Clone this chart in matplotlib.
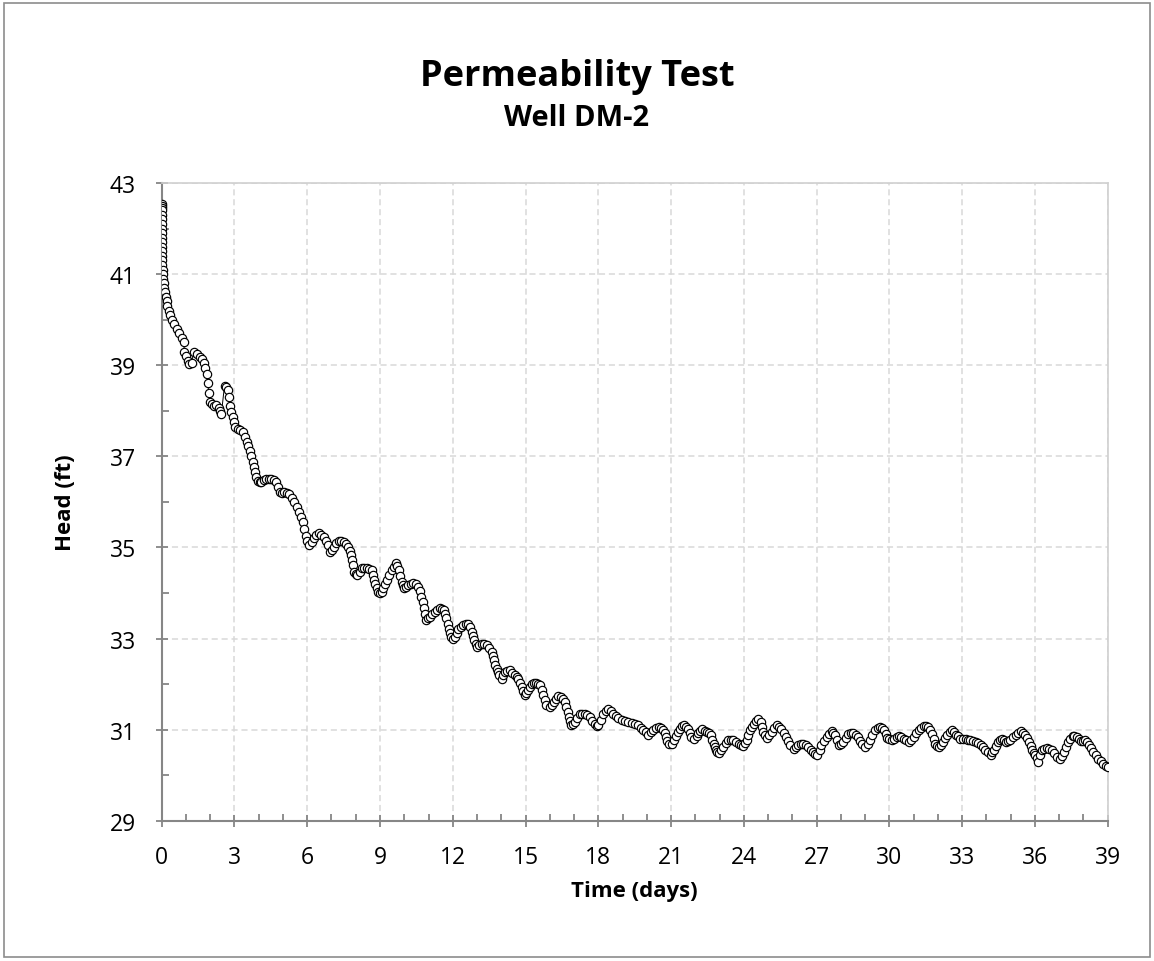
import numpy as np
import matplotlib
matplotlib.use("Agg")
import matplotlib.pyplot as plt
from matplotlib.patches import Rectangle
from matplotlib.ticker import MultipleLocator

plt.rcParams['font.family'] = ['Open Sans', 'DejaVu Sans']

# logger record, time in days and head in feet
time_days = [
    0.0, 0.001, 0.002, 0.003, 0.004, 0.005, 0.006, 0.007, 0.008, 0.009, 0.010, 0.012, 0.014, 0.016,
    0.02, 0.03, 0.04, 0.05, 0.07, 0.09, 0.11, 0.13, 0.16, 0.2, 0.24, 0.29, 0.35, 0.43, 0.52, 0.62,
    0.72, 0.82, 0.92, 0.93, 1.0, 1.07, 1.13, 1.23, 1.33, 1.45, 1.57, 1.67, 1.74, 1.8, 1.86, 1.9,
    1.94, 2.0, 2.07, 2.14, 2.25, 2.35, 2.41, 2.46, 2.59, 2.66, 2.72, 2.77, 2.82, 2.87, 2.92, 2.97,
    3.03, 3.13, 3.23, 3.36, 3.43, 3.5, 3.57, 3.64, 3.7, 3.75, 3.8, 3.84, 3.9, 3.97, 4.04, 4.11,
    4.21, 4.31, 4.42, 4.52, 4.62, 4.72, 4.79, 4.86, 4.96, 5.06, 5.16, 5.26, 5.37, 5.47, 5.57, 5.67,
    5.74, 5.81, 5.88, 5.94, 6.0, 6.08, 6.19, 6.27, 6.38, 6.48, 6.58, 6.68, 6.77, 6.85, 6.95, 7.02,
    7.09, 7.2, 7.3, 7.4, 7.5, 7.6, 7.7, 7.75, 7.8, 7.84, 7.88, 7.94, 8.0, 8.07, 8.16, 8.25,
    8.36, 8.46, 8.56, 8.66, 8.71, 8.76, 8.81, 8.86, 8.93, 9.0, 9.07, 9.14, 9.22, 9.3, 9.39, 9.48,
    9.57, 9.66, 9.72, 9.79, 9.84, 9.89, 9.94, 9.98, 10.07, 10.16, 10.27, 10.37, 10.47, 10.57, 10.64, 10.71,
    10.76, 10.8, 10.85, 10.91, 10.98, 11.05, 11.15, 11.25, 11.35, 11.46, 11.55, 11.62, 11.68, 11.73, 11.79, 11.84,
    11.89, 11.93, 12.0, 12.1, 12.17, 12.23, 12.33, 12.44, 12.54, 12.64, 12.71, 12.78, 12.83, 12.88, 12.94, 12.99,
    13.09, 13.19, 13.3, 13.4, 13.5, 13.6, 13.65, 13.7, 13.76, 13.81, 13.87, 13.92, 14.01, 14.08, 14.15, 14.25,
    14.36, 14.46, 14.56, 14.63, 14.7, 14.77, 14.84, 14.9, 14.97, 15.03, 15.1, 15.18, 15.25, 15.33, 15.42, 15.5,
    15.59, 15.66, 15.73, 15.8, 15.86, 16.0, 16.08, 16.16, 16.25, 16.34, 16.45, 16.55, 16.62, 16.68, 16.74, 16.79,
    16.84, 16.89, 16.96, 17.03, 17.13, 17.23, 17.33, 17.44, 17.54, 17.64, 17.75, 17.85, 17.94, 18.0, 18.1, 18.21,
    18.31, 18.41, 18.52, 18.62, 18.72, 18.83, 18.96, 19.1, 19.24, 19.38, 19.51, 19.65, 19.76, 19.86, 19.96, 20.06,
    20.17, 20.27, 20.39, 20.5, 20.6, 20.68, 20.73, 20.78, 20.85, 20.92, 21.05, 21.12, 21.19, 21.28, 21.37, 21.46,
    21.55, 21.62, 21.69, 21.76, 21.82, 21.96, 22.05, 22.13, 22.21, 22.29, 22.38, 22.47, 22.56, 22.65, 22.7, 22.75,
    22.8, 22.84, 22.91, 22.98, 23.07, 23.16, 23.26, 23.36, 23.46, 23.57, 23.68, 23.78, 23.88, 23.98, 24.05, 24.12,
    24.19, 24.26, 24.33, 24.4, 24.5, 24.59, 24.69, 24.75, 24.8, 24.87, 24.94, 25.04, 25.14, 25.25, 25.35, 25.45,
    25.55, 25.64, 25.73, 25.81, 25.9, 26.06, 26.15, 26.24, 26.35, 26.45, 26.55, 26.65, 26.76, 26.86, 26.95, 27.03,
    27.12, 27.2, 27.3, 27.41, 27.52, 27.62, 27.69, 27.76, 27.85, 27.93, 28.01, 28.1, 28.2, 28.31, 28.41, 28.51,
    28.62, 28.72, 28.79, 28.86, 28.99, 29.1, 29.2, 29.3, 29.41, 29.51, 29.61, 29.7, 29.78, 29.85, 29.91, 30.0,
    30.09, 30.18, 30.3, 30.39, 30.49, 30.59, 30.7, 30.8, 30.9, 31.0, 31.1, 31.21, 31.31, 31.42, 31.51, 31.6,
    31.68, 31.76, 31.83, 31.9, 31.97, 32.04, 32.12, 32.2, 32.29, 32.38, 32.48, 32.59, 32.67, 32.75, 32.84, 32.93,
    33.03, 33.14, 33.24, 33.34, 33.45, 33.55, 33.66, 33.76, 33.86, 33.96, 34.07, 34.17, 34.24, 34.31, 34.4, 34.48,
    34.56, 34.65, 34.73, 34.81, 34.9, 34.99, 35.1, 35.2, 35.3, 35.41, 35.5, 35.58, 35.67, 35.75, 35.82, 35.89,
    35.96, 36.02, 36.08, 36.14, 36.2, 36.28, 36.38, 36.48, 36.58, 36.69, 36.79, 36.89, 37.03, 37.11, 37.2, 37.29,
    37.38, 37.46, 37.55, 37.63, 37.72, 37.8, 37.88, 37.97, 38.06, 38.15, 38.24, 38.33, 38.41, 38.51, 38.61, 38.71,
    38.82, 38.91, 39.0,
]
head_ft = [
    42.55, 42.5, 42.45, 42.4, 42.3, 42.2, 42.1, 42.0, 41.9, 41.8, 41.7, 41.6, 41.5, 41.4,
    41.3, 41.2, 41.1, 41.0, 40.9, 40.8, 40.7, 40.6, 40.5, 40.4, 40.3, 40.2, 40.1, 40.0, 39.9, 39.8,
    39.7, 39.6, 39.5, 39.28, 39.2, 39.1, 39.03, 39.06, 39.3, 39.25, 39.18, 39.13, 39.05, 38.95, 38.8, 38.6,
    38.4, 38.2, 38.14, 38.11, 38.12, 38.07, 38.0, 37.93, 38.55, 38.52, 38.45, 38.3, 38.11, 37.98, 37.86, 37.75,
    37.64, 37.6, 37.58, 37.53, 37.42, 37.31, 37.22, 37.12, 37.0, 36.87, 36.76, 36.65, 36.55, 36.46, 36.44, 36.43,
    36.47, 36.5, 36.5, 36.5, 36.48, 36.43, 36.33, 36.21, 36.2, 36.21, 36.2, 36.17, 36.08, 35.99, 35.88, 35.77,
    35.67, 35.55, 35.4, 35.26, 35.15, 35.05, 35.12, 35.2, 35.27, 35.31, 35.28, 35.23, 35.15, 35.05, 34.9, 34.95,
    35.01, 35.1, 35.14, 35.14, 35.12, 35.08, 35.01, 34.93, 34.83, 34.72, 34.61, 34.47, 34.42, 34.39, 34.47, 34.54,
    34.55, 34.54, 34.52, 34.5, 34.4, 34.28, 34.19, 34.1, 34.03, 33.99, 34.03, 34.1, 34.19, 34.28, 34.39, 34.5,
    34.58, 34.65, 34.59, 34.5, 34.38, 34.25, 34.17, 34.11, 34.14, 34.17, 34.2, 34.21, 34.19, 34.14, 34.05, 33.92,
    33.8, 33.66, 33.53, 33.4, 33.44, 33.48, 33.54, 33.59, 33.63, 33.66, 33.65, 33.62, 33.54, 33.44, 33.33, 33.22,
    33.12, 33.04, 33.0, 33.04, 33.13, 33.22, 33.26, 33.29, 33.31, 33.33, 33.25, 33.15, 33.05, 32.96, 32.88, 32.82,
    32.85, 32.89, 32.87, 32.85, 32.79, 32.71, 32.62, 32.52, 32.43, 32.34, 32.26, 32.19, 32.12, 32.2, 32.27, 32.29,
    32.3, 32.25, 32.19, 32.15, 32.12, 32.03, 31.94, 31.84, 31.75, 31.8, 31.86, 31.94, 32.01, 32.03, 32.03, 32.0,
    31.97, 31.86, 31.75, 31.65, 31.55, 31.5, 31.55, 31.61, 31.68, 31.74, 31.72, 31.68, 31.6, 31.5, 31.39, 31.28,
    31.19, 31.1, 31.13, 31.17, 31.26, 31.35, 31.35, 31.35, 31.32, 31.28, 31.2, 31.13, 31.08, 31.1, 31.22, 31.35,
    31.41, 31.45, 31.4, 31.35, 31.3, 31.26, 31.22, 31.18, 31.16, 31.15, 31.12, 31.1, 31.04, 30.99, 30.94, 30.89,
    30.94, 30.99, 31.03, 31.06, 31.04, 30.99, 30.92, 30.84, 30.76, 30.69, 30.69, 30.78, 30.86, 30.95, 31.02, 31.07,
    31.1, 31.06, 31.01, 30.92, 30.84, 30.8, 30.86, 30.93, 30.98, 31.01, 30.98, 30.95, 30.92, 30.88, 30.78, 30.69,
    30.62, 30.55, 30.51, 30.49, 30.55, 30.62, 30.7, 30.77, 30.77, 30.77, 30.73, 30.69, 30.66, 30.64, 30.7, 30.77,
    30.88, 30.99, 31.06, 31.13, 31.18, 31.23, 31.17, 31.06, 30.95, 30.88, 30.82, 30.88, 30.95, 31.03, 31.1, 31.06,
    31.02, 30.93, 30.84, 30.75, 30.67, 30.58, 30.62, 30.67, 30.68, 30.69, 30.66, 30.62, 30.56, 30.51, 30.47, 30.44,
    30.55, 30.66, 30.75, 30.84, 30.9, 30.96, 30.93, 30.88, 30.77, 30.66, 30.69, 30.73, 30.82, 30.91, 30.92, 30.93,
    30.89, 30.84, 30.76, 30.69, 30.62, 30.69, 30.77, 30.88, 30.99, 31.03, 31.06, 31.03, 30.99, 30.9, 30.82, 30.79,
    30.78, 30.8, 30.83, 30.86, 30.83, 30.8, 30.77, 30.73, 30.78, 30.84, 30.92, 30.99, 31.04, 31.08, 31.07, 31.06,
    30.99, 30.91, 30.8, 30.69, 30.65, 30.62, 30.67, 30.73, 30.81, 30.89, 30.94, 30.99, 30.94, 30.89, 30.85, 30.8,
    30.8, 30.8, 30.78, 30.77, 30.75, 30.73, 30.7, 30.67, 30.61, 30.55, 30.5, 30.44, 30.5, 30.55, 30.64, 30.73,
    30.77, 30.8, 30.77, 30.73, 30.75, 30.77, 30.83, 30.89, 30.93, 30.96, 30.93, 30.89, 30.81, 30.73, 30.64, 30.55,
    30.49, 30.44, 30.37, 30.29, 30.45, 30.55, 30.58, 30.6, 30.58, 30.55, 30.48, 30.4, 30.36, 30.43, 30.51, 30.62,
    30.73, 30.8, 30.86, 30.85, 30.84, 30.79, 30.74, 30.76, 30.77, 30.72, 30.66, 30.59, 30.51, 30.44, 30.36, 30.31,
    30.25, 30.21, 30.18,
]

x_ticks = list(range(0, 40, 3))
y_ticks = list(range(29, 44, 2))
title = "Permeability Test"
subtitle = "Well DM-2"
x_label = "Time (days)"
y_label = "Head (ft)"

fig = plt.figure(figsize=(11.54, 9.62), dpi=100)
ax = fig.add_axes([0.1401, 0.1458, 0.8198, 0.6629])

# outer chart frame
fig.patches.append(Rectangle((0.0035, 0.004), 0.993, 0.9915, transform=fig.transFigure,
                             fill=False, edgecolor='#8c8c8c', linewidth=1.2))

ax.plot(time_days, head_ft, color='black', linewidth=0.7, marker='o', markersize=6,
        markerfacecolor='white', markeredgecolor='black', markeredgewidth=0.85, zorder=3)

ax.set_xlim(0, 39)
ax.set_ylim(29, 43)
ax.set_xticks(x_ticks)
ax.set_yticks(y_ticks)
ax.xaxis.set_minor_locator(MultipleLocator(1))
ax.yaxis.set_minor_locator(MultipleLocator(1))

ax.grid(which='major', color='#d9d9d9', linestyle=(0, (4, 2.5)), linewidth=1.1)
ax.set_axisbelow(True)

for side in ['left', 'bottom']:
    ax.spines[side].set_color('#868686')
    ax.spines[side].set_linewidth(1.5)
for side in ['top', 'right']:
    ax.spines[side].set_color('#d0d0d0')
    ax.spines[side].set_linewidth(1.2)

ax.tick_params(which='major', direction='inout', length=9, width=1.3, color='#868686',
               labelsize=16.5)
ax.tick_params(axis='y', which='major', pad=14)
ax.tick_params(axis='x', which='major', pad=13)
ax.tick_params(which='minor', direction='in', length=5, width=1.3, color='#868686')
ax.tick_params(top=False, right=False, which='both')

ax.set_xlabel(x_label, fontsize=16, fontweight='bold', labelpad=8)
ax.set_ylabel(y_label, fontsize=16, fontweight='bold', labelpad=24)

fig.text(0.5, 0.920, title, ha='center', va='center', fontsize=26, fontweight='bold')
fig.text(0.5, 0.877, subtitle, ha='center', va='center', fontsize=21, fontweight='bold')

fig.savefig('out.png', dpi=100)
